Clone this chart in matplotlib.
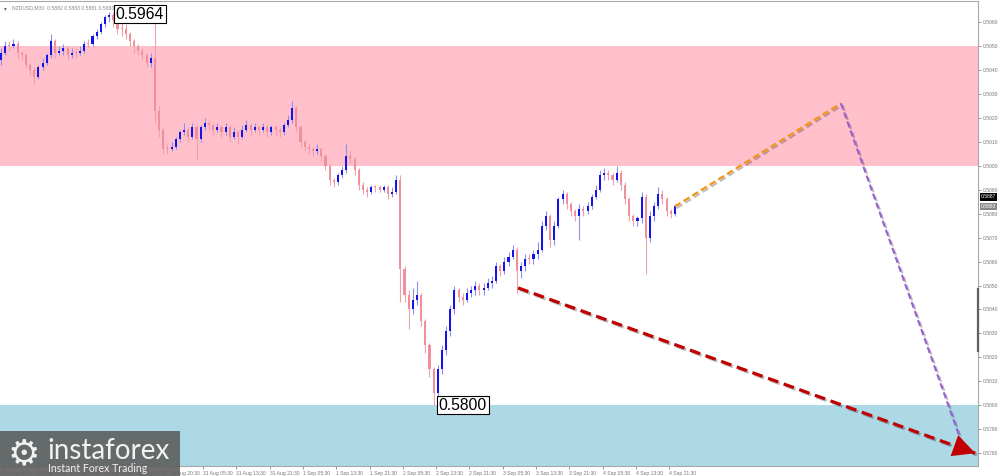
import matplotlib
matplotlib.use("Agg")
import matplotlib.pyplot as plt
import matplotlib.patheffects as pe
from matplotlib.transforms import blended_transform_factory

# ---------------- data ----------------
symbol = "NZDUSD,M30"
header_ohlc = ["0.5882", "0.5883", "0.5881", "0.5883"]

first_open = 0.5944
close = [0.5947,0.5950,0.5950,0.5951,0.5947,0.5946,0.5942,0.5940,0.5937,0.5941,
0.5943,0.5946,0.5952,0.5947,0.5948,0.5949,0.5946,0.5947,0.5947,0.5948,
0.5951,0.5951,0.5954,0.5956,0.5959,0.5962,0.5963,0.5961,0.5957,0.5957,
0.5955,0.5952,0.5950,0.5948,0.5946,0.5943,0.5945,0.5923,0.5915,0.5907,
0.5907,0.5908,0.5911,0.5914,0.5915,0.5912,0.5916,0.5911,0.5916,0.5918,
0.5917,0.5915,0.5916,0.5914,0.5916,0.5912,0.5914,0.5912,0.5915,0.5917,
0.5915,0.5916,0.5915,0.5916,0.5914,0.5916,0.5915,0.5914,0.5917,0.5919,
0.5924,0.5916,0.5910,0.5908,0.5907,0.5906,0.5907,0.5904,0.5900,0.5894,
0.5893,0.5896,0.5898,0.5904,0.5903,0.5898,0.5892,0.5890,0.5889,0.5891,
0.5891,0.5890,0.5891,0.5888,0.5889,0.5894,0.5857,0.5846,0.5840,0.5844,
0.5846,0.5835,0.5825,0.5815,0.5805,0.5815,0.5823,0.5831,0.5840,0.5848,
0.5845,0.5844,0.5847,0.5848,0.5850,0.5848,0.5849,0.5851,0.5852,0.5858,
0.5856,0.5860,0.5862,0.5865,0.5856,0.5858,0.5861,0.5861,0.5863,0.5865,
0.5875,0.5879,0.5869,0.5875,0.5886,0.5888,0.5884,0.5881,0.5879,0.5882,
0.5881,0.5883,0.5887,0.5890,0.5896,0.5897,0.5896,0.5894,0.5897,0.5892,
0.5886,0.5879,0.5877,0.5878,0.5887,0.5870,0.5879,0.5883,0.5888,0.5886,
0.5881,0.5880,0.5883]

high = [0.5949,0.5952,0.5952,0.5953,0.5952,0.5948,0.5947,0.5943,0.5941,0.5942,
0.5945,0.5947,0.5955,0.5953,0.5950,0.5951,0.5950,0.5949,0.5949,0.5950,
0.5952,0.5953,0.5955,0.5957,0.5960,0.5963,0.5964,0.5964,0.5962,0.5960,
0.5959,0.5956,0.5953,0.5951,0.5949,0.5947,0.5947,0.5960,0.5925,0.5916,
0.5909,0.5910,0.5912,0.5915,0.5918,0.5916,0.5918,0.5917,0.5917,0.5920,
0.5919,0.5918,0.5918,0.5917,0.5918,0.5917,0.5916,0.5915,0.5917,0.5919,
0.5918,0.5918,0.5917,0.5918,0.5917,0.5917,0.5917,0.5916,0.5918,0.5921,
0.5927,0.5925,0.5917,0.5911,0.5909,0.5908,0.5909,0.5908,0.5905,0.5901,
0.5895,0.5897,0.5900,0.5909,0.5906,0.5904,0.5899,0.5893,0.5891,0.5892,
0.5892,0.5892,0.5892,0.5892,0.5891,0.5896,0.5896,0.5858,0.5848,0.5849,
0.5852,0.5847,0.5836,0.5826,0.5816,0.5817,0.5825,0.5833,0.5842,0.5850,
0.5849,0.5847,0.5849,0.5850,0.5852,0.5851,0.5851,0.5853,0.5854,0.5860,
0.5859,0.5862,0.5864,0.5867,0.5866,0.5860,0.5863,0.5863,0.5865,0.5868,
0.5877,0.5881,0.5880,0.5877,0.5887,0.5890,0.5889,0.5885,0.5882,0.5884,
0.5883,0.5885,0.5888,0.5892,0.5898,0.5899,0.5898,0.5897,0.5900,0.5898,
0.5893,0.5887,0.5880,0.5879,0.5889,0.5888,0.5881,0.5885,0.5891,0.5890,
0.5887,0.5882,0.5884]

low = [0.5942,0.5946,0.5948,0.5949,0.5945,0.5944,0.5941,0.5938,0.5934,0.5936,
0.5940,0.5942,0.5945,0.5945,0.5946,0.5946,0.5944,0.5945,0.5945,0.5946,
0.5947,0.5949,0.5950,0.5953,0.5955,0.5958,0.5960,0.5958,0.5955,0.5954,
0.5953,0.5950,0.5947,0.5946,0.5944,0.5941,0.5941,0.5918,0.5912,0.5905,
0.5905,0.5906,0.5907,0.5910,0.5913,0.5910,0.5911,0.5903,0.5910,0.5915,
0.5915,0.5913,0.5914,0.5912,0.5913,0.5910,0.5911,0.5909,0.5911,0.5914,
0.5913,0.5914,0.5913,0.5914,0.5912,0.5913,0.5913,0.5912,0.5913,0.5916,
0.5918,0.5914,0.5908,0.5906,0.5905,0.5904,0.5905,0.5902,0.5898,0.5892,
0.5891,0.5892,0.5895,0.5897,0.5901,0.5896,0.5890,0.5888,0.5887,0.5888,
0.5889,0.5889,0.5889,0.5886,0.5887,0.5888,0.5843,0.5843,0.5832,0.5838,
0.5842,0.5833,0.5822,0.5812,0.5800,0.5803,0.5813,0.5821,0.5829,0.5838,
0.5843,0.5842,0.5843,0.5845,0.5846,0.5846,0.5846,0.5848,0.5849,0.5851,
0.5854,0.5855,0.5858,0.5861,0.5847,0.5853,0.5856,0.5859,0.5859,0.5861,
0.5864,0.5873,0.5866,0.5867,0.5874,0.5884,0.5882,0.5879,0.5877,0.5869,
0.5879,0.5880,0.5882,0.5886,0.5889,0.5894,0.5894,0.5892,0.5893,0.5890,
0.5884,0.5877,0.5875,0.5875,0.5876,0.5855,0.5868,0.5877,0.5882,0.5884,
0.5879,0.5878,0.5879]

x_tick_labels = ["27 Aug 2024", "27 Aug 21:30", "28 Aug 05:30", "28 Aug 13:30",
                 "30 Aug 12:30", "30 Aug 20:30", "31 Aug 05:30", "31 Aug 13:30",
                 "31 Aug 21:30", "1 Sep 05:30", "1 Sep 13:30", "1 Sep 21:30",
                 "2 Sep 05:30", "2 Sep 13:30", "2 Sep 21:30", "3 Sep 05:30",
                 "3 Sep 13:30", "3 Sep 21:30", "4 Sep 05:30", "4 Sep 13:30",
                 "4 Sep 21:30"]
price_ticks = [0.5780, 0.5790, 0.5800, 0.5810, 0.5820, 0.5830, 0.5840, 0.5850,
               0.5860, 0.5870, 0.5880, 0.5890, 0.5900, 0.5910, 0.5920, 0.5930,
               0.5940, 0.5950, 0.5960]

resistance_zone = [0.5900, 0.5950]
support_zone = [0.5700, 0.5800]

orange_x = [162, 201.9]
orange_y = [0.5883, 0.5926]
purple_x = [201.9, 230.8]
purple_y = [0.5926, 0.5785]
red_x = [124.3, 234.2]
red_y = [0.5849, 0.5780]

level_black = 0.5887
level_gray = 0.5883

# ---------------- layout ----------------
W, H = 1000, 476
fig = plt.figure(figsize=(W / 100, H / 100), dpi=100)
fig.patch.set_facecolor("white")
ax = fig.add_axes([0, (H - 466) / H, 978 / W, 465 / H])
ax.set_facecolor("white")

px_per_bar = 4.16
x_left = -1 / px_per_bar
ax.set_xlim(x_left, x_left + 978 / px_per_bar)
ax.set_ylim(0.577467, 0.596874)

# zones
ax.axhspan(resistance_zone[0], resistance_zone[1], color="#ffc0cb", zorder=0, lw=0)
ax.axhspan(support_zone[0], support_zone[1], color="#add8e6", zorder=0, lw=0)

# candles
opens = [first_open] + close[:-1]
bull_body, bull_wick = "#1414e8", "#8f8ff0"
bear_body, bear_wick = "#f0909a", "#f0a0a8"
for j, (o, c, h, l) in enumerate(zip(opens, close, high, low)):
    bull = c > o
    wc = bull_wick if bull else bear_wick
    bc = bull_body if bull else bear_body
    ax.vlines(j, l, h, color=wc, lw=0.8, zorder=2)
    bottom = min(o, c)
    height = max(abs(c - o), 0.00004)
    ax.bar(j, height, bottom=bottom, width=0.5, color=bc, lw=0, zorder=3)

# extreme labels
i_hi = max(range(len(high)), key=lambda k: high[k])
i_lo = min(range(len(low)), key=lambda k: low[k])
box = dict(boxstyle="square,pad=0.12", fc="white", ec="black", lw=0.8)
ax.text(i_hi + 1.55, high[i_hi] - 0.00007, f"{high[i_hi]:.4f}", ha="left", va="center",
        fontsize=11.3, family="Liberation Sans", bbox=box, zorder=6)
ax.text(i_lo + 1.15, low[i_lo] + 0.00001, f"{low[i_lo]:.4f}", ha="left", va="center",
        fontsize=11.3, family="Liberation Sans", bbox=box, zorder=6)

# forecast lines
shadow = [pe.SimpleLineShadow(offset=(1.2, -1.2), alpha=0.25), pe.Normal()]
ax.plot(orange_x, orange_y, color="#f5940f", lw=1.6, dashes=(3, 1.6), zorder=5,
        path_effects=shadow)
ax.plot(purple_x, purple_y, color="#9b5fd4", lw=1.5, dashes=(3, 1.6), zorder=5,
        path_effects=shadow)
ax.plot(red_x, red_y, color="#c00000", lw=2.3, dashes=(3.4, 1.8), zorder=5,
        path_effects=shadow)
frac = 0.06
ax.annotate("", xy=(red_x[1], red_y[1]),
            xytext=(red_x[1] - frac * (red_x[1] - red_x[0]), red_y[1] - frac * (red_y[1] - red_y[0])),
            arrowprops=dict(arrowstyle="-|>,head_length=1.0,head_width=0.5", mutation_scale=16,
                            color="#c00000", lw=0, shrinkA=0, shrinkB=0),
            zorder=6)

# axes styling
ax.spines["left"].set_visible(False)
for s in ["right", "bottom", "top"]:
    ax.spines[s].set_color("#a8a8a8")
    ax.spines[s].set_linewidth(0.8)
ax.yaxis.tick_right()
ax.set_yticks(price_ticks)
ax.set_yticklabels([f"{p:.4f}" for p in price_ticks])
ax.tick_params(axis="y", direction="out", length=2, width=0.6, colors="#888888",
               labelsize=3.6, labelcolor="#777777", pad=1.5)
x_tick_pos = [0.6 + 8.0 * i for i in range(len(x_tick_labels))]
ax.set_xticks(x_tick_pos)
ax.set_xticklabels(x_tick_labels)
ax.tick_params(axis="x", direction="out", length=2.5, width=0.6, colors="#888888",
               labelsize=3.6, labelcolor="#777777", pad=1.0)
for lbl in ax.get_xticklabels():
    lbl.set_horizontalalignment("left")
for lbl in ax.get_xticklabels() + ax.get_yticklabels():
    lbl.set_family("Liberation Sans")

# header
ax.text(0.004, 0.989, "\u25be", transform=ax.transAxes, fontsize=4, color="#666666",
        va="top", ha="left")
ax.text(0.012, 0.990, f"{symbol}  " + " ".join(header_ohlc), transform=ax.transAxes,
        fontsize=3.7, color="#888888", va="top", ha="left", family="Liberation Sans")

# price markers on right axis
tr = blended_transform_factory(ax.transAxes, ax.transData)
ax.text(1.003, level_black, f"{level_black:.4f}", transform=tr, fontsize=3.6, color="white",
        va="center", ha="left", family="Liberation Sans",
        bbox=dict(boxstyle="square,pad=0.25", fc="black", ec="black", lw=0), clip_on=False, zorder=7)
ax.text(1.003, level_gray, f"{level_gray:.4f}", transform=tr, fontsize=3.6, color="white",
        va="center", ha="left", family="Liberation Sans",
        bbox=dict(boxstyle="square,pad=0.25", fc="#8a8a8a", ec="#8a8a8a", lw=0), clip_on=False, zorder=7)
ax.plot([1.0, 1.0], [0.58226, 0.58485], transform=tr, color="#606060", lw=1.6,
        clip_on=False, zorder=7)

# logo
lax = fig.add_axes([0, 0, 180 / W, 45 / H])
lax.set_facecolor((0.37, 0.37, 0.37, 0.9))
lax.set_xticks([])
lax.set_yticks([])
for s in lax.spines.values():
    s.set_visible(False)
lax.set_xlim(0, 180)
lax.set_ylim(0, 45)
lax.text(24, 22, "\u2699", fontsize=26, color="#f2f2f2", ha="center", va="center",
         family="DejaVu Sans")
lax.text(47, 25, "instaforex", fontsize=20, color="#f2f2f2", ha="left", va="center",
         family="Lato")
lax.text(48, 7.5, "Instant Forex Trading", fontsize=7.6, color="#f2f2f2", ha="left",
         va="center", family="Lato")

fig.savefig("out.png", dpi=100)
